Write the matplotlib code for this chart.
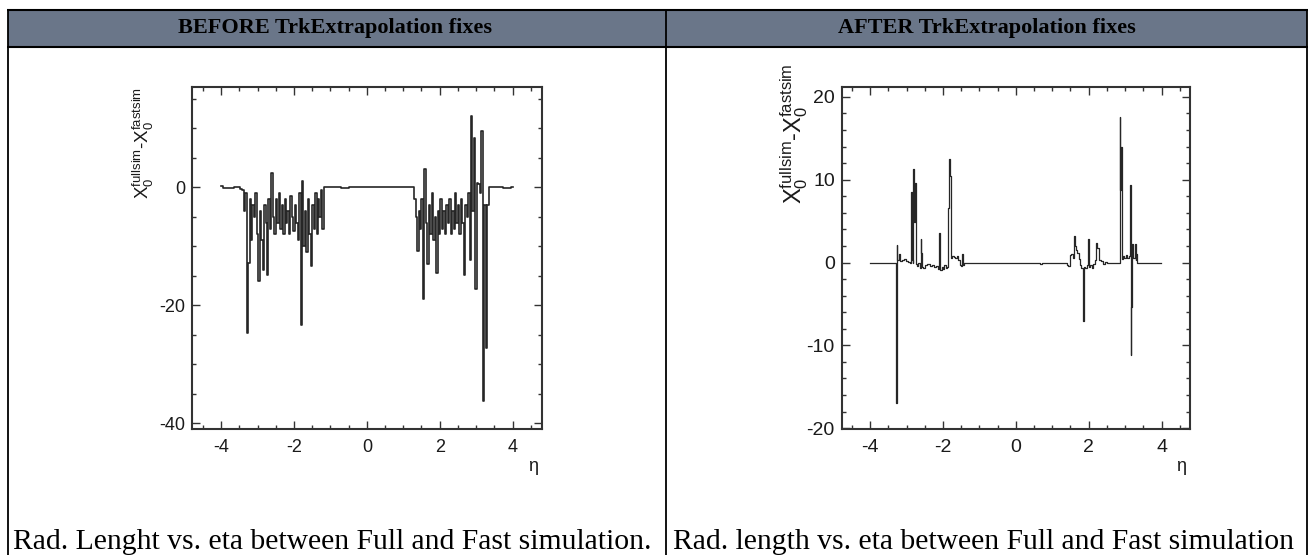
import matplotlib
matplotlib.use('Agg')
import matplotlib.pyplot as plt
import numpy as np
from matplotlib.lines import Line2D
from matplotlib.patches import Rectangle
from matplotlib.ticker import MultipleLocator

plt.rcParams['font.family'] = ['Liberation Sans', 'DejaVu Sans']
plt.rcParams['mathtext.fontset'] = 'custom'
plt.rcParams['mathtext.rm'] = 'Liberation Sans'
plt.rcParams['axes.unicode_minus'] = False

W, H = 1314, 555

# table texts
headers = ['BEFORE TrkExtrapolation fixes', 'AFTER TrkExtrapolation fixes']
captions = ['Rad. Lenght vs. eta between Full and Fast simulation.',
            'Rad. length vs. eta between Full and Fast simulation']
ylabel_txt = r'$\mathregular{X_0^{fullsim}}$-$\mathregular{X_0^{fastsim}}$'
xlabel_txt = 'η'

# ---- BEFORE fixes (histogram) ----
before_left_eta = [-4.00, -3.92, -3.84, -3.76, -3.68, -3.60, -3.52, -3.44]
before_left_val = [0.2, -0.1, -0.2, -0.2, -0.1, 0.0, 0.1, -0.3]
# bins -3.40 .. -1.20, width 0.04
before_neg_val = [-0.5, -4, -1, -24.7, -12.8, -2, -9, -3, -5, -1,
                  -8, -15.9, -4, -9, -14, -3, -6, -14.8, -2, -7,
                  2.5, -5, -8, -2, -6, -1, -7, -3, -8, -2,
                  -6, -4, -8, -1.5, -5, -7.5, -3, -6, -9, -1,
                  -23.3, 1, -10, -4, -11, -2, -8, -13.4, -3, -7,
                  -1, -8, -2, -5, -0.5, -7]
before_mid_eta = [-1.16, -0.80, -0.60, -0.40, 0.00, 0.40, 0.70, 1.00, 1.24]
before_mid_val = [0.0, 0.0, -0.1, 0.0, 0.0, 0.0, 0.1, 0.0, 0.0]
# bins 1.28 .. 3.40, width 0.04
before_pos_val = [0, -2, -5, -10.8, -4, -7, -2, -19, 3.1, -6,
                  -13, -3, -8, -1, -9, -5, -14.5, -4, -8, -2,
                  -7, -4, -8, -3, -6, -2, -8, -4, -7, -1,
                  -6, -3, -8, -2, -6, -14.8, -3, -5, -1, -12.3,
                  12, -4, 8.4, -17.3, 0.8, 0.5, -1, 9.5, -36.3, -3,
                  -27.2, -3, 0, 0]
before_right_eta = [3.44, 3.52, 3.60, 3.70, 3.80, 3.90, 4.00]
before_right_val = [0.0, 0.0, 0.1, 0.0, -0.2, -0.2, 0.1]

before_neg_eta = np.linspace(-3.40, -1.20, len(before_neg_val))
before_pos_eta = np.linspace(1.28, 3.40, len(before_pos_val))

# ---- AFTER fixes ----
after_eta = [-4.00, -3.30, -3.28, -3.26, -3.24, -3.20, -3.16, -3.10, -3.04, -2.98,
             -2.92, -2.88, -2.86, -2.84, -2.82, -2.80, -2.78, -2.76, -2.74, -2.70,
             -2.66, -2.62, -2.60, -2.58, -2.56, -2.52, -2.46, -2.40, -2.34, -2.28,
             -2.22, -2.16, -2.12, -2.10, -2.08, -2.06, -2.02, -1.98, -1.94, -1.90,
             -1.86, -1.84, -1.82, -1.80, -1.78, -1.76, -1.72, -1.68, -1.64, -1.60,
             -1.56, -1.52, -1.48, -1.46, -1.44, -1.40, 0.66, 0.68, 0.70, 0.72,
             1.40, 1.42, 1.46, 1.50, 1.54, 1.58, 1.62, 1.64, 1.66, 1.70,
             1.74, 1.78, 1.82, 1.86, 1.88, 1.92, 1.96, 1.98, 2.00, 2.02,
             2.06, 2.10, 2.14, 2.18, 2.22, 2.26, 2.30, 2.36, 2.42, 2.48,
             2.54, 2.84, 2.86, 2.88, 2.90, 2.92, 2.96, 3.00, 3.04, 3.08,
             3.12, 3.14, 3.16, 3.18, 3.20, 3.24, 3.28, 3.30, 3.32, 3.34,
             3.98]
after_val = [0.0, 0.0, -16.9, 2.1, 0.3, 1.0, 0.2, 0.3, 0.4, 0.2,
             0.1, 0.0, 8.5, 0.3, 0.0, 11.3, 4.9, 9.6, -0.2, -0.4,
             0.0, -0.6, 2.9, 1.2, -0.5, -0.7, -0.3, -0.2, -0.4, -0.3,
             -0.5, -0.4, -0.8, 3.6, 1.3, -0.9, -0.5, -0.8, -0.3, -0.6,
             -0.5, 6.6, 12.5, 10.5, 5.6, 0.5, 0.8, 0.7, 0.5, 0.8,
             0.3, -0.3, -0.4, 1.0, -0.3, 0.0, 0.0, -0.2, -0.2, 0.0,
             0.0, -0.3, -0.4, 0.9, 1.0, 0.6, 3.2, 2.0, 1.5, 1.2,
             0.4, -0.3, -0.6, -7.1, -0.5, -0.6, -0.3, 1.5, 2.9, -0.5,
             -0.3, -0.6, -0.2, 0.3, 2.4, 1.8, 0.3, 0.2, -0.2, 0.1,
             0.0, 0.0, 17.6, 8.8, 13.9, 0.4, 0.8, 0.6, 0.9, 0.5,
             0.8, 9.4, -11.2, -5.4, 2.3, 0.5, 2.2, 0.3, 1.0, 0.0,
             0.0]

before_eta = np.concatenate([before_left_eta, before_neg_eta, before_mid_eta,
                             before_pos_eta, before_right_eta])
before_val = np.concatenate([before_left_val, before_neg_val, before_mid_val,
                             before_pos_val, before_right_val])


def fx(x):
    return x / W


def fy(y):
    return 1 - y / H


fig = plt.figure(figsize=(W / 100, H / 100), dpi=100)
fig.patch.set_facecolor('white')

# table frame
fig.add_artist(Rectangle((fx(8), fy(46)), fx(1307) - fx(8), fy(10) - fy(46),
                         transform=fig.transFigure, facecolor='#6a7689',
                         edgecolor='none', zorder=0))
border = dict(color='black', transform=fig.transFigure, solid_capstyle='butt')
fig.add_artist(Line2D([fx(7), fx(1308)], [fy(9.5), fy(9.5)], lw=1.5, **border))
fig.add_artist(Line2D([fx(7), fx(1308)], [fy(46.5), fy(46.5)], lw=1.5, **border))
for xv in [8, 666, 1307]:
    fig.add_artist(Line2D([fx(xv), fx(xv)], [fy(9), fy(560)], lw=1.3, **border))

for cx, txt in zip([335, 986.5], headers):
    fig.text(fx(cx), fy(28), txt, ha='center', va='center', fontsize=16,
             fontweight='bold', family='Liberation Serif', color='black')
for lx, txt in zip([13, 673], captions):
    fig.text(fx(lx), fy(549), txt, ha='left', va='baseline', fontsize=21.3,
             family='Liberation Serif', color='black')

panels = [
    dict(rect=(192, 87, 541.7, 429), eta=before_eta, val=before_val, lw=1.2,
         xlim=(-4.8, 4.8), ylim=(-41, 17), ymaj=20, ymin=5, tick_fs=13,
         lab_fs=13.5, lab_xy=(-0.103, 1.0)),
    dict(rect=(841.7, 87, 1190, 429), eta=after_eta, val=after_val, lw=0.9,
         xlim=(-4.78, 4.78), ylim=(-20.1, 21.2), ymaj=10, ymin=2, tick_fs=14,
         lab_fs=17, lab_xy=(-0.09, 1.07)),
]

for p in panels:
    l, t, r, b = p['rect']
    ax = fig.add_axes([fx(l), fy(b), fx(r) - fx(l), fy(t) - fy(b)])
    ax.plot(p['eta'], p['val'], drawstyle='steps-mid', color='#262626', lw=p['lw'])
    ax.set_xlim(*p['xlim'])
    ax.set_ylim(*p['ylim'])
    ax.xaxis.set_major_locator(MultipleLocator(2))
    ax.xaxis.set_minor_locator(MultipleLocator(0.5))
    ax.yaxis.set_major_locator(MultipleLocator(p['ymaj']))
    ax.yaxis.set_minor_locator(MultipleLocator(p['ymin']))
    ax.tick_params(which='both', direction='in', top=True, right=True,
                   color='#333333', width=1.0)
    ax.tick_params(which='major', length=6, labelsize=p['tick_fs'],
                   labelcolor='#1a1a1a', pad=5)
    ax.tick_params(which='minor', length=3)
    ax.tick_params(axis='x', which='major', pad=7)
    for s in ax.spines.values():
        s.set_linewidth(1.5)
        s.set_color('#333333')
    ax.set_ylabel(ylabel_txt, loc='top', fontsize=p['lab_fs'], color='#1a1a1a')
    ax.yaxis.set_label_coords(*p['lab_xy'])
    ax.text(0.99, -0.11, xlabel_txt, transform=ax.transAxes, ha='right',
            va='center', fontsize=13, color='#1a1a1a')

fig.savefig('out.png', dpi=100)
